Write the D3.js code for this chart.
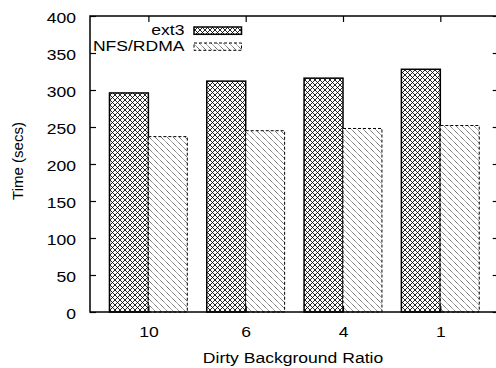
<!DOCTYPE html>
<html><head><meta charset="utf-8">
<script src="https://cdn.jsdelivr.net/npm/d3@7"></script>
<style>
html,body{margin:0;padding:0;background:#fff;}
text{font-family:"Liberation Sans",Arial,Helvetica,sans-serif;fill:#000;}
</style></head>
<body>
<svg id="chart" width="496" height="368"></svg>
<script>
const categories = ["10", "6", "4", "1"];
const seriesNames = ["ext3", "NFS/RDMA"];
const ext3Values = [296, 312, 316, 328];
const nfsValues = [237, 245, 248, 252];
const yTicks = [0, 50, 100, 150, 200, 250, 300, 350, 400];

const mLeft = 90, mRight = 498.7, mTop = 16, mBottom = 312;
const sx = 1.17; // horizontal text stretch
const svg = d3.select("#chart");

const defs = svg.append("defs");
const p1 = defs.append("pattern").attr("id","hatchX").attr("patternUnits","userSpaceOnUse")
  .attr("width",5).attr("height",5);
p1.append("rect").attr("width",5).attr("height",5).attr("fill","#fff");
p1.append("path").attr("d","M0,0L5,5M5,0L0,5M-1,4L1,6M4,-1L6,1M-1,1L1,-1M4,6L6,4")
  .attr("stroke","#000").attr("stroke-width",0.85);
const p2 = defs.append("pattern").attr("id","hatchD").attr("patternUnits","userSpaceOnUse")
  .attr("width",6).attr("height",6);
p2.append("rect").attr("width",6).attr("height",6).attr("fill","#fff");
p2.append("path").attr("d","M0,0L6,6M-1,5L1,7M5,-1L7,1")
  .attr("stroke","#333").attr("stroke-width",0.8).attr("stroke-dasharray","1.2,0.6");

const x = d3.scaleLinear().domain([-0.6, 3.6]).range([mLeft, mRight]);
const y = d3.scaleLinear().domain([0, 400]).range([mBottom, mTop]);
const bw = 0.4;

const series = [
  {name: seriesNames[0], values: ext3Values, fill: "url(#hatchX)", dash: null, sw: 1.5, off: -bw},
  {name: seriesNames[1], values: nfsValues, fill: "url(#hatchD)", dash: "3,2", sw: 1, off: 0}
];

series.forEach(s => {
  svg.append("g").selectAll("rect").data(s.values).join("rect")
    .attr("x", (d,i) => x(i + s.off))
    .attr("y", d => y(d))
    .attr("width", x(bw) - x(0))
    .attr("height", d => y(0) - y(d))
    .attr("fill", s.fill)
    .attr("stroke", "#000")
    .attr("stroke-width", s.sw)
    .attr("stroke-dasharray", s.dash);
});

// Axes
const yAxisL = d3.axisLeft(y).tickValues(yTicks).tickSizeInner(-6).tickSizeOuter(0).tickPadding(12);
const gl = svg.append("g").attr("transform",`translate(${mLeft},0)`).call(yAxisL);
const yAxisR = d3.axisRight(y).tickValues(yTicks).tickSizeInner(-6).tickSizeOuter(0).tickFormat("");
svg.append("g").attr("transform",`translate(${mRight},0)`).call(yAxisR);
const xAxisB = d3.axisBottom(x).tickValues(d3.range(categories.length)).tickFormat(i => categories[i])
  .tickSizeInner(-6).tickSizeOuter(0).tickPadding(14);
const gb = svg.append("g").attr("transform",`translate(0,${mBottom})`).call(xAxisB);
const xAxisT = d3.axisTop(x).tickValues(d3.range(categories.length)).tickFormat("")
  .tickSizeInner(-6).tickSizeOuter(0);
svg.append("g").attr("transform",`translate(0,${mTop})`).call(xAxisT);

svg.selectAll(".domain").remove();
svg.selectAll(".tick line").attr("stroke","#000").attr("stroke-width",1.2);
svg.selectAll(".tick text").attr("font-size",15).attr("fill","#000")
  .style("font-family","'Liberation Sans',Arial,sans-serif");
gl.selectAll(".tick text").each(function(){
  const t = d3.select(this);
  const xx = +t.attr("x");
  t.attr("x", null).attr("dy","0.4em")
   .attr("transform", `translate(${xx - 2},0) scale(${sx},1)`);
});
gb.selectAll(".tick text").each(function(){
  const t = d3.select(this);
  t.attr("dy","0.71em").attr("transform", `scale(${sx},1)`);
});

// Frame
svg.append("rect").attr("x",mLeft).attr("y",mTop).attr("width",mRight-mLeft).attr("height",mBottom-mTop)
  .attr("fill","none").attr("stroke","#000").attr("stroke-width",1.5);

// Labels
svg.append("text").attr("transform",`translate(293,363) scale(${sx},1)`)
  .attr("text-anchor","middle").attr("font-size",15).text("Dirty Background Ratio");
svg.append("text").attr("transform","translate(23,161) rotate(-90)")
  .attr("text-anchor","middle").attr("font-size",15).text("Time (secs)");

// Legend
const legY = [35.3, 51.3];
const boxY = [27, 43];
series.forEach((s,i) => {
  svg.append("text").attr("transform",`translate(184.5,${legY[i]}) scale(${sx},1)`)
    .attr("text-anchor","end").attr("font-size",15).text(s.name);
  svg.append("rect").attr("x",194).attr("y",boxY[i]).attr("width",47.5).attr("height",7.3)
    .attr("fill",s.fill).attr("stroke","#000").attr("stroke-width",s.sw)
    .attr("stroke-dasharray",s.dash);
});
</script>
</body></html>
